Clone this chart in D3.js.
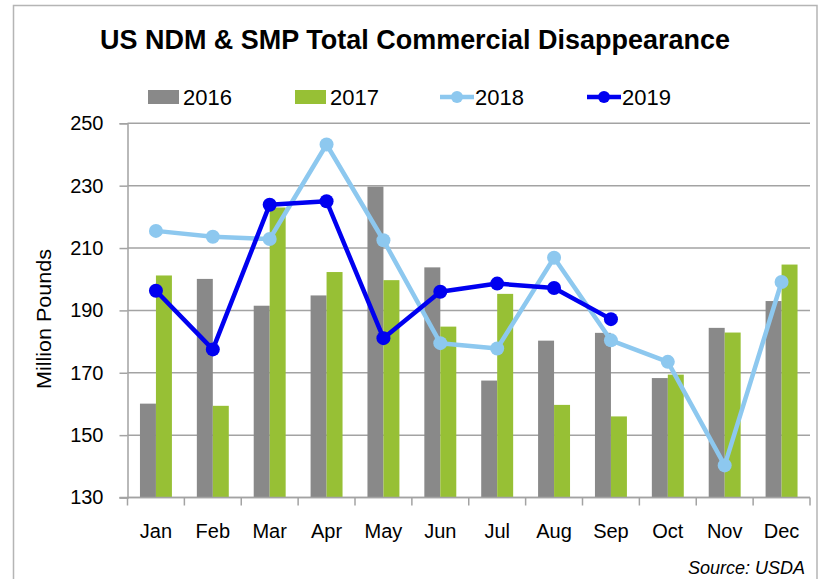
<!DOCTYPE html>
<html>
<head>
<meta charset="utf-8">
<script src="https://cdn.jsdelivr.net/npm/d3@7"></script>
<style>
  body { margin: 0; background: #fff; }
  svg { display: block; font-family: "Liberation Sans", Arial, sans-serif; }
</style>
</head>
<body>
<div id="chart"></div>
<script>
// chart data (million pounds)
const months = ["Jan", "Feb", "Mar", "Apr", "May", "Jun", "Jul", "Aug", "Sep", "Oct", "Nov", "Dec"];
const values2016 = [160.1, 200.1, 191.5, 194.8, 229.7, 203.8, 167.5, 180.3, 182.8, 168.3, 184.4, 193.0];
const values2017 = [201.2, 159.4, 223.0, 202.3, 199.7, 184.8, 195.3, 159.7, 156.0, 169.4, 182.9, 204.7];
const values2018 = [215.5, 213.6, 212.9, 243.2, 212.5, 179.5, 177.8, 206.9, 180.4, 173.5, 140.3, 199.1];
const values2019 = [196.3, 177.5, 223.9, 225.0, 181.1, 196.0, 198.6, 197.2, 187.2];
const yTicks = [130, 150, 170, 190, 210, 230, 250];

const width = 819;
const height = 579;
const plot = { left: 127.5, right: 810, top: 123.3, bottom: 497.5 };

const colors = {
  y2016: "#898989",
  y2017: "#97c035",
  y2018: "#8dc8ef",
  y2019: "#0000f0",
  grid: "#a3a3a3",
  border: "#b5b5b5"
};

const svg = d3.select("#chart")
  .append("svg")
  .attr("width", width)
  .attr("height", height);

// outer frame
svg.append("path")
  .attr("d", "M13.5," + height + "V5.5H817V" + height)
  .attr("fill", "none")
  .attr("stroke", colors.border)
  .attr("stroke-width", 1.5);

// scales
const x = d3.scaleBand().domain(months).range([plot.left, plot.right]);
const xBar = d3.scaleBand().domain(["2016", "2017"]).range([0, x.bandwidth()]).paddingOuter(0.78);
const y = d3.scaleLinear().domain([130, 250]).range([plot.bottom, plot.top]);

// horizontal gridlines + y ticks
const yAxis = svg.append("g")
  .attr("transform", "translate(" + plot.left + ",0)")
  .call(d3.axisLeft(y).tickValues(yTicks).tickSize(8).tickPadding(16));
yAxis.select(".domain").attr("stroke", colors.grid).attr("stroke-width", 1.5);
yAxis.selectAll(".tick line").attr("stroke", colors.grid).attr("stroke-width", 1.5);
yAxis.selectAll(".tick text")
  .attr("font-size", 20)
  .attr("fill", "#000")
  .attr("font-family", "'Liberation Sans', Arial, sans-serif");

svg.append("g")
  .selectAll("line")
  .data(yTicks)
  .enter()
  .append("line")
  .attr("x1", plot.left)
  .attr("x2", plot.right)
  .attr("y1", function(d) { return y(d); })
  .attr("y2", function(d) { return y(d); })
  .attr("stroke", colors.grid)
  .attr("stroke-width", 1.5);

// x axis ticks sit on category boundaries
const boundaries = months.map(function(m) { return x(m); }).concat([plot.right]);
svg.append("g")
  .selectAll("line")
  .data(boundaries)
  .enter()
  .append("line")
  .attr("x1", function(d) { return d; })
  .attr("x2", function(d) { return d; })
  .attr("y1", plot.bottom)
  .attr("y2", plot.bottom + 8)
  .attr("stroke", colors.grid)
  .attr("stroke-width", 1.5);

svg.append("g")
  .selectAll("text")
  .data(months)
  .enter()
  .append("text")
  .attr("x", function(d) { return x(d) + x.bandwidth() / 2; })
  .attr("y", 538)
  .attr("text-anchor", "middle")
  .attr("font-size", 20)
  .text(function(d) { return d; });

// bars
[["2016", values2016, colors.y2016], ["2017", values2017, colors.y2017]].forEach(function(s) {
  svg.append("g")
    .selectAll("rect")
    .data(s[1])
    .enter()
    .append("rect")
    .attr("x", function(d, i) { return x(months[i]) + xBar(s[0]); })
    .attr("y", function(d) { return y(d); })
    .attr("width", xBar.bandwidth())
    .attr("height", function(d) { return plot.bottom - y(d); })
    .attr("fill", s[2]);
});

// bottom axis line drawn over bars
svg.append("line")
  .attr("x1", plot.left - 8)
  .attr("x2", plot.right)
  .attr("y1", plot.bottom)
  .attr("y2", plot.bottom)
  .attr("stroke", colors.grid)
  .attr("stroke-width", 1.5);

// lines
const line = d3.line()
  .x(function(d, i) { return x(months[i]) + x.bandwidth() / 2; })
  .y(function(d) { return y(d); });

[[values2018, colors.y2018], [values2019, colors.y2019]].forEach(function(s) {
  const g = svg.append("g");
  g.append("path")
    .datum(s[0])
    .attr("d", line)
    .attr("fill", "none")
    .attr("stroke", s[1])
    .attr("stroke-width", 4.5)
    .attr("stroke-linejoin", "round");
  g.selectAll("circle")
    .data(s[0])
    .enter()
    .append("circle")
    .attr("cx", function(d, i) { return x(months[i]) + x.bandwidth() / 2; })
    .attr("cy", function(d) { return y(d); })
    .attr("r", 7)
    .attr("fill", s[1]);
});

// title, squeezed to the reference width
svg.append("text")
  .attr("x", 415)
  .attr("y", 49)
  .attr("text-anchor", "middle")
  .attr("font-weight", "bold")
  .attr("font-size", 28)
  .attr("textLength", 630)
  .attr("lengthAdjust", "spacingAndGlyphs")
  .text("US NDM & SMP Total Commercial Disappearance");

// legend
const legend = svg.append("g");
const legendItems = [
  { label: "2016", color: colors.y2016, type: "bar", x: 148 },
  { label: "2017", color: colors.y2017, type: "bar", x: 295 },
  { label: "2018", color: colors.y2018, type: "line", x: 440 },
  { label: "2019", color: colors.y2019, type: "line", x: 587 }
];
legendItems.forEach(function(item) {
  if (item.type == "bar") {
    legend.append("rect")
      .attr("x", item.x)
      .attr("y", 90)
      .attr("width", 31)
      .attr("height", 14)
      .attr("fill", item.color);
  } else {
    legend.append("line")
      .attr("x1", item.x)
      .attr("x2", item.x + 34)
      .attr("y1", 97)
      .attr("y2", 97)
      .attr("stroke", item.color)
      .attr("stroke-width", 4.5);
    legend.append("circle")
      .attr("cx", item.x + 17)
      .attr("cy", 97)
      .attr("r", 6)
      .attr("fill", item.color);
  }
  legend.append("text")
    .attr("x", item.x + 35)
    .attr("y", 105)
    .attr("font-size", 22)
    .text(item.label);
});

// y axis title
svg.append("text")
  .attr("transform", "translate(51,319) rotate(-90)")
  .attr("text-anchor", "middle")
  .attr("font-size", 21)
  .attr("textLength", 140)
  .attr("lengthAdjust", "spacingAndGlyphs")
  .text("Million Pounds");

// source note
svg.append("text")
  .attr("x", 805)
  .attr("y", 574)
  .attr("text-anchor", "end")
  .attr("font-size", 18)
  .attr("font-style", "italic")
  .text("Source: USDA");
</script>
</body>
</html>
